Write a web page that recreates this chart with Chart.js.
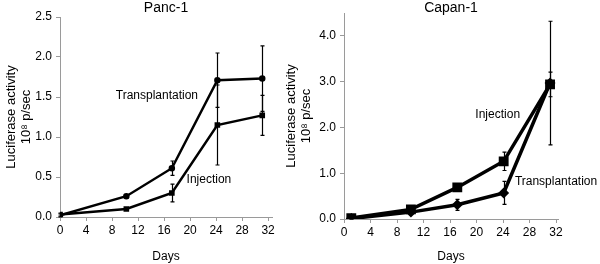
<!DOCTYPE html>
<html>
<head>
<meta charset="utf-8">
<script src="https://cdn.jsdelivr.net/npm/chart.js@4.4.0/dist/chart.umd.min.js"></script>
<style>
  html, body { margin: 0; padding: 0; background: #fff; }
  #wrap { position: relative; width: 600px; height: 264px; overflow: hidden; }
  .box { position: absolute; top: 0; height: 264px; }
</style>
</head>
<body>
<div id="wrap">
  <div class="box" style="left:0;width:300px"><canvas id="pancChart"></canvas></div>
  <div class="box" style="left:280px;width:320px"><canvas id="capanChart"></canvas></div>
</div>
<script>
// Panc-1 (left panel)
var pancDays = [0, 10.2, 17.2, 24.2, 31.1]
var pancTransplant = [0.02, 0.26, 0.61, 1.71, 1.73]
var pancTransplantErr = [0.02, 0.02, 0.09, 0.34, 0.41]
var pancInjection = [0.03, 0.10, 0.30, 1.15, 1.27]
var pancInjectionErr = [0.02, 0.01, 0.11, 0.50, 0.25]

// Capan-1 (right panel)
var capanDays = [1.1, 10.1, 17.1, 24.1, 31.1]
var capanInjection = [0.02, 0.21, 0.69, 1.26, 2.94]
var capanInjectionErr = [0.02, 0.03, 0.05, 0.20, 0.27]
var capanTransplant = [0.01, 0.15, 0.31, 0.57, 2.97]
var capanTransplantErr = [0.01, 0.02, 0.12, 0.25, 1.35]

var dayTicks = [0, 4, 8, 12, 16, 20, 24, 28, 32]
var yTitle = ['Luciferase activity', '10\u2078 p/sec']

const FONT = '"Liberation Sans", Arial, sans-serif'
const AXIS_GREY = '#9a9a9a'

function pts(xs, ys) {
  return xs.map(function (x, i) { return { x: x, y: ys[i] } })
}

// error bars + chart title + in-plot labels
const extras = {
  id: 'extras',
  afterDatasetsDraw(chart, args, opts) {
    const ctx = chart.ctx
    const xs = chart.scales.x, ys = chart.scales.y
    ctx.save()
    ctx.strokeStyle = '#000'
    ctx.lineWidth = 1.2
    chart.data.datasets.forEach(function (ds) {
      ds.data.forEach(function (p, i) {
        const e = ds.errorBars[i]
        const px = Math.round(xs.getPixelForValue(p.x)) + 0.5
        const top = ys.getPixelForValue(p.y + e)
        const bot = ys.getPixelForValue(p.y - e)
        ctx.beginPath()
        ctx.moveTo(px, top); ctx.lineTo(px, bot)
        ctx.moveTo(px - 2, top); ctx.lineTo(px + 2, top)
        ctx.moveTo(px - 2, bot); ctx.lineTo(px + 2, bot)
        ctx.stroke()
      })
    })
    ctx.fillStyle = '#000'
    ctx.textAlign = 'center'
    ctx.textBaseline = 'middle'
    ctx.font = '14px ' + FONT
    const area = chart.chartArea
    ctx.fillText(opts.title, (area.left + area.right) / 2, 8)
    ctx.font = '12px ' + FONT
    opts.labels.forEach(function (l) {
      ctx.fillText(l.text, xs.getPixelForValue(l.x), ys.getPixelForValue(l.y))
    })
    ctx.restore()
  }
}

function makeChart(id, cfg) {
  return new Chart(document.getElementById(id), {
    type: 'line',
    data: {
      datasets: [
        {
          data: pts(cfg.days, cfg.a),
          errorBars: cfg.aErr,
          borderColor: '#000',
          backgroundColor: '#000',
          borderWidth: cfg.lw,
          pointStyle: cfg.aStyle,
          pointRadius: cfg.aRadius,
          tension: 0
        },
        {
          data: pts(cfg.days, cfg.b),
          errorBars: cfg.bErr,
          borderColor: '#000',
          backgroundColor: '#000',
          borderWidth: cfg.lw,
          pointStyle: cfg.bStyle,
          pointRadius: cfg.bRadius,
          tension: 0
        }
      ]
    },
    options: {
      responsive: true,
      maintainAspectRatio: false,
      animation: false,
      layout: { padding: { left: 4, right: cfg.padRight, top: cfg.padTop, bottom: 0 } },
      plugins: {
        legend: { display: false },
        tooltip: { enabled: false },
        extras: { title: cfg.title, labels: cfg.labels }
      },
      scales: {
        x: {
          type: 'linear',
          min: 0,
          max: cfg.xMax,
          afterBuildTicks: function (s) { s.ticks = dayTicks.map(function (v) { return { value: v } }) },
          afterFit: function (s) { s.height = cfg.xHeight },
          ticks: { color: '#000', font: { family: FONT, size: 12 }, padding: 2, maxRotation: 0, autoSkip: false },
          grid: { drawOnChartArea: false, color: AXIS_GREY, tickLength: 4 },
          border: { color: AXIS_GREY, width: 1 },
          title: { display: true, text: 'Days', color: '#000', font: { family: FONT, size: 12 }, padding: { top: 4, bottom: 0 } }
        },
        y: {
          min: 0,
          max: cfg.yMax,
          afterBuildTicks: function (s) { s.ticks = cfg.yTicks.map(function (v) { return { value: v } }) },
          afterFit: function (s) { s.width = cfg.yWidth },
          ticks: {
            color: '#000', font: { family: FONT, size: 12 }, padding: 4,
            callback: function (v) { return v.toFixed(1) }
          },
          grid: { drawOnChartArea: false, color: AXIS_GREY, tickLength: 4 },
          border: { color: AXIS_GREY, width: 1 },
          title: { display: true, text: yTitle, color: '#000', font: { family: FONT, size: 13, lineHeight: 1.15 }, padding: 0 }
        }
      }
    },
    plugins: [extras]
  })
}

makeChart('pancChart', {
  title: 'Panc-1',
  days: pancDays,
  a: pancTransplant, aErr: pancTransplantErr, aStyle: 'circle', aRadius: 2,
  b: pancInjection, bErr: pancInjectionErr, bStyle: 'rect', bRadius: 2.2,
  lw: 2.5,
  xMax: 32.6, yMax: 2.5, yTicks: [0, 0.5, 1, 1.5, 2, 2.5],
  padRight: 28, padTop: 17, xHeight: 47, yWidth: 56,
  labels: [
    { text: 'Transplantation', x: 14.9, y: 1.52 },
    { text: 'Injection', x: 22.9, y: 0.47 }
  ]
})

makeChart('capanChart', {
  title: 'Capan-1',
  days: capanDays,
  a: capanInjection, aErr: capanInjectionErr, aStyle: 'rect', aRadius: 4.5,
  b: capanTransplant, bErr: capanTransplantErr, bStyle: 'rectRot', bRadius: 3,
  lw: 3.5,
  xMax: 32.3, yMax: 4.5, yTicks: [0, 1, 2, 3, 4],
  padRight: 42, padTop: 13, xHeight: 45, yWidth: 60,
  labels: [
    { text: 'Injection', x: 23.2, y: 2.27 },
    { text: 'Transplantation', x: 32.0, y: 0.82 }
  ]
})
</script>
</body>
</html>
